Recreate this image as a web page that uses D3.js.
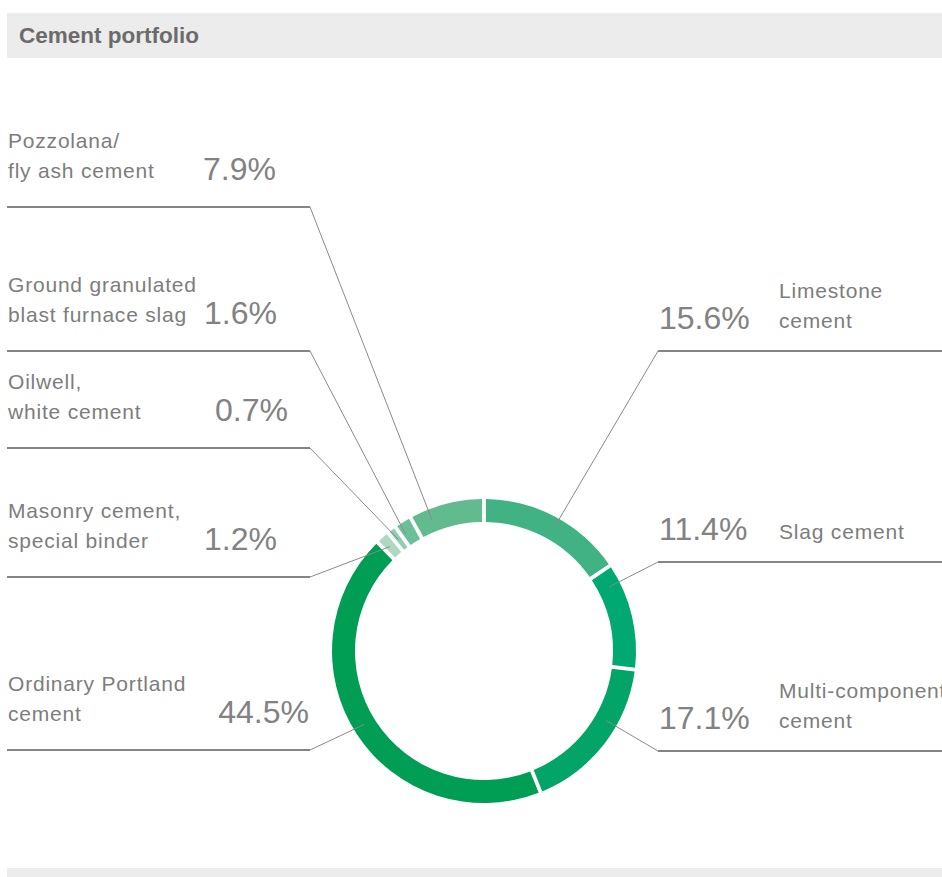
<!DOCTYPE html>
<html>
<head>
<meta charset="utf-8">
<script src="https://cdn.jsdelivr.net/npm/d3@7"></script>
<style>
  body { margin: 0; background: #fff; }
  svg { display: block; }
</style>
</head>
<body>
<div id="chart"></div>
<script>
// chart values, clockwise from 12 o'clock
var categories = [
    "Limestone cement",
    "Slag cement",
    "Multi-component cement",
    "Ordinary Portland cement",
    "Masonry cement, special binder",
    "Oilwell, white cement",
    "Ground granulated blast furnace slag",
    "Pozzolana/fly ash cement"
];
var shares = [15.6, 11.4, 17.1, 44.5, 1.2, 0.7, 1.6, 7.9];
var labelLines = [
    ["Limestone", "cement"],
    ["Slag cement"],
    ["Multi-component", "cement"],
    ["Ordinary Portland", "cement"],
    ["Masonry cement,", "special binder"],
    ["Oilwell,", "white cement"],
    ["Ground granulated", "blast furnace slag"],
    ["Pozzolana/", "fly ash cement"]
];
var sliceColors = ["#41b283", "#00a972", "#03a467", "#009e55", "#acd9bf", "#8fcfae", "#6cc097", "#62bb8f"];

// label placement (side, y of the leader shelf, x of the percent, where on the slice the leader ends)
var labelLayout = [
    { side: "right", shelf: 351, pctX: 659, along: 0.53 },
    { side: "right", shelf: 562, pctX: 659, along: 0.17 },
    { side: "right", shelf: 751, pctX: 659, along: 0.37 },
    { side: "left",  shelf: 750, pctX: 309, along: 0.51 },
    { side: "left",  shelf: 577, pctX: 277, along: 0.45 },
    { side: "left",  shelf: 448, pctX: 288, along: 0.45 },
    { side: "left",  shelf: 351, pctX: 277, along: 0.25 },
    { side: "left",  shelf: 207, pctX: 276, along: 0.25 }
];

var width = 942, height = 877;
var cx = 484, cy = 651, outerR = 152, innerR = 129;

var svg = d3.select("#chart").append("svg")
    .attr("width", width)
    .attr("height", height);

// header band
svg.append("rect")
    .attr("x", 7).attr("y", 13)
    .attr("width", width - 7).attr("height", 45)
    .attr("fill", "#ebeceb");
svg.append("text")
    .attr("x", 19).attr("y", 43)
    .attr("font-family", "'Liberation Sans', Arial, sans-serif")
    .attr("font-weight", "bold")
    .attr("font-size", "22.5px")
    .attr("fill", "#6b6b6b")
    .text("Cement portfolio");

// footer band
svg.append("rect")
    .attr("x", 7).attr("y", 868)
    .attr("width", width - 7).attr("height", 9)
    .attr("fill", "#ebeceb");

var slices = categories.map(function(name, i) {
    return { name: name, value: shares[i], color: sliceColors[i], lines: labelLines[i], layout: labelLayout[i] };
});

var pie = d3.pie()
    .sort(null)
    .value(function(d) { return d.value; })
    .startAngle(0)
    .endAngle(2 * Math.PI)
    .padAngle(0.019);

var arc = d3.arc()
    .innerRadius(innerR)
    .outerRadius(outerR);

var arcs = pie(slices);

var ring = svg.append("g")
    .attr("transform", "translate(" + cx + "," + cy + ")");

ring.selectAll("path")
    .data(arcs)
    .enter().append("path")
    .attr("d", arc)
    .attr("fill", function(d) { return d.data.color; });

// leader lines
var midR = (innerR + outerR) / 2;
var anchor = function(d) {
    var a = d.startAngle + d.data.layout.along * (d.endAngle - d.startAngle);
    return [cx + midR * Math.sin(a), cy - midR * Math.cos(a)];
};

var leaders = svg.append("g");
arcs.forEach(function(d) {
    var lay = d.data.layout;
    var p = anchor(d);
    var elbowX = lay.side === "left" ? 310 : 658;
    var farX = lay.side === "left" ? 7 : width;
    // shelf
    leaders.append("line")
        .attr("x1", farX).attr("x2", elbowX)
        .attr("y1", lay.shelf).attr("y2", lay.shelf)
        .attr("stroke", "#858585")
        .attr("stroke-width", 2);
    // diagonal to the ring
    leaders.append("line")
        .attr("x1", elbowX).attr("y1", lay.shelf)
        .attr("x2", p[0]).attr("y2", p[1])
        .attr("stroke", "#8a8a8a")
        .attr("stroke-width", 1);
});

// labels
var labels = svg.append("g")
    .attr("font-family", "'Liberation Sans', Arial, sans-serif")
    .attr("fill", "#7d7d7d");

arcs.forEach(function(d) {
    var lay = d.data.layout;
    var lines = d.data.lines;
    var left = lay.side === "left";
    var lastBase = left ? lay.shelf - 29 : lay.shelf - 23;
    var textX = left ? 8 : 779;

    lines.forEach(function(line, j) {
        labels.append("text")
            .attr("x", textX)
            .attr("y", lastBase - (lines.length - 1 - j) * 30)
            .attr("font-size", "21px")
            .attr("letter-spacing", "0.8px")
            .text(line);
    });

    labels.append("text")
        .attr("x", lay.pctX)
        .attr("y", left ? lay.shelf - 27 : lay.shelf - 22)
        .attr("font-size", "32px")
        .attr("fill", "#828282")
        .attr("text-anchor", left ? "end" : "start")
        .text(d3.format(".1f")(d.data.value) + "%");
});
</script>
</body>
</html>
